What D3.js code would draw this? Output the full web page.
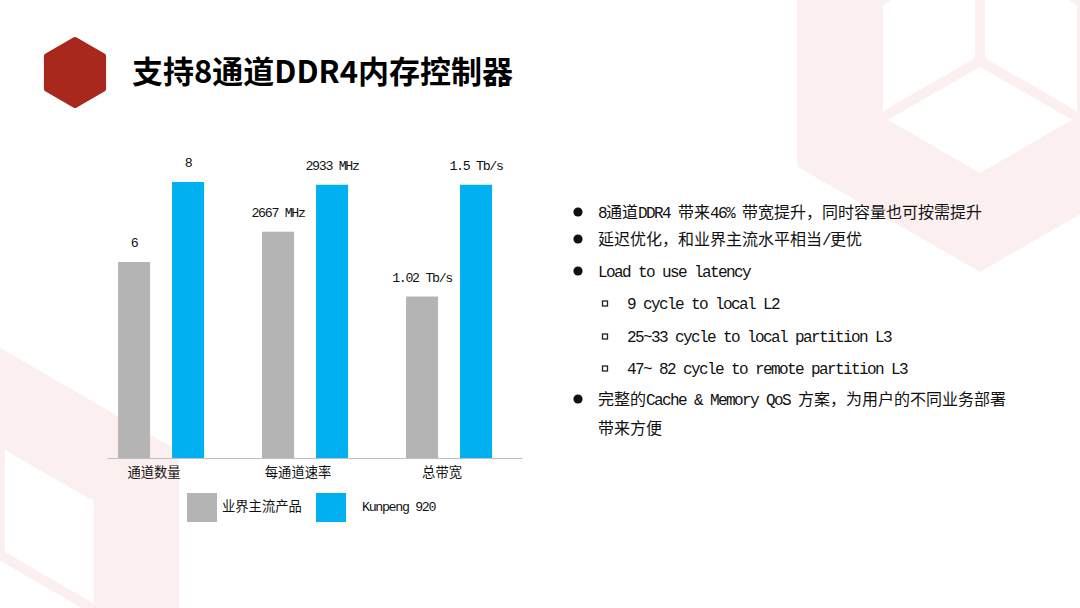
<!DOCTYPE html>
<html>
<head>
<meta charset="utf-8">
<script src="https://cdn.jsdelivr.net/npm/d3@7"></script>
<style>
  html, body { margin: 0; padding: 0; background: #fff; }
  svg { display: block; }
  text { white-space: pre; }
</style>
</head>
<body>
<script>
// ---------------- data ----------------
const categories = ["通道数量", "每通道速率", "总带宽"];
const seriesNames = ["业界主流产品", "Kunpeng 920"];
const seriesColors = ["#B4B4B4", "#00B0F0"];
// relative bar heights as drawn in the picture (tallest bar = 100)
const industryHeights = [71, 82, 58.5];
const kunpengHeights = [100, 99, 99];
const industryLabels = ["6", "2667 MHz", "1.02 Tb/s"];
const kunpengLabels = ["8", "2933 MHz", "1.5 Tb/s"];
const titleText = "支持8通道DDR4内存控制器";
const bulletTexts = [
  "8通道DDR4 带来46% 带宽提升，同时容量也可按需提升",
  "延迟优化，和业界主流水平相当/更优",
  "Load to use latency",
  "9 cycle to local L2",
  "25~33 cycle to local partition L3",
  "47~ 82 cycle to remote partition L3",
  "完整的Cache & Memory QoS 方案，为用户的不同业务部署",
  "带来方便"
];
const bulletLevels = [1, 1, 1, 2, 2, 2, 1, 0];

// ---------------- setup ----------------
const W = 1080, H = 608;
const svg = d3.select("body").append("svg").attr("width", W).attr("height", H);
svg.append("rect").attr("width", W).attr("height", H).attr("fill", "#fff");

const CJK = /[\u2E80-\u9FFF\u3000-\u303F\uFF00-\uFFEF]/;
function mixed(sel, str, size) {
  const parts = str.match(/[\u2E80-\u9FFF\u3000-\u303F\uFF00-\uFFEF]+|[^\u2E80-\u9FFF\u3000-\u303F\uFF00-\uFFEF]+/g) || [];
  parts.forEach(p => {
    const t = sel.append("tspan").text(p).attr("font-size", size);
    if (CJK.test(p)) t.attr("font-family", "'Noto Sans CJK SC', sans-serif");
    else t.attr("font-family", "'Liberation Mono', monospace").attr("letter-spacing", (-0.1 * size).toFixed(2));
  });
  return sel;
}

// ---------------- background cubes ----------------
function hexPts(cx, cy, R) {
  return d3.range(6).map(i => {
    const a = (-90 + 60 * i) * Math.PI / 180;
    return [cx + R * Math.cos(a), cy + R * Math.sin(a)];
  });
}
function cube(cx, cy, R, Rin, gap, color) {
  const g = svg.append("g");
  g.append("polygon").attr("points", hexPts(cx, cy, R).join(" ")).attr("fill", color);
  const inner = hexPts(cx, cy, Rin);
  g.append("polygon").attr("points", inner.join(" ")).attr("fill", "#fff");
  [inner[0], inner[2], inner[4]].forEach(p => {
    g.append("line").attr("x1", cx).attr("y1", cy).attr("x2", p[0]).attr("y2", p[1])
      .attr("stroke", color).attr("stroke-width", gap);
  });
}
cube(980, 61, 211, 112, 10, "#FCEFEF");
cube(0, 555, 207, 108, 10, "#FCEFEF");

// ---------------- title ----------------
const logo = hexPts(75, 72.5, 33);
svg.append("polygon").attr("points", logo.join(" "))
  .attr("fill", "#A9281E").attr("stroke", "#A9281E")
  .attr("stroke-width", 5).attr("stroke-linejoin", "round");
svg.append("text").attr("x", 132).attr("y", 83)
  .attr("font-family", "'Noto Sans CJK SC', sans-serif").attr("font-weight", 700)
  .attr("font-size", 31).attr("fill", "#000").text(titleText);

// ---------------- chart ----------------
const baseY = 458;
const x0 = d3.scaleBand().domain(categories).range([107, 522])
  .paddingInner(0.4028).paddingOuter(0.1425).align(0.27);
const x1 = d3.scaleBand().domain(seriesNames).range([0, x0.bandwidth()]).paddingInner(0.407);
const y = d3.scaleLinear().domain([0, 100]).range([baseY, 182]);

const rows = categories.map((c, i) => ({
  cat: c,
  vals: [
    { s: seriesNames[0], h: industryHeights[i], label: industryLabels[i], color: seriesColors[0] },
    { s: seriesNames[1], h: kunpengHeights[i], label: kunpengLabels[i], color: seriesColors[1] }
  ]
}));

const groups = svg.append("g").selectAll("g").data(rows).join("g")
  .attr("transform", d => `translate(${x0(d.cat)},0)`);
groups.selectAll("rect").data(d => d.vals).join("rect")
  .attr("x", d => x1(d.s)).attr("width", x1.bandwidth())
  .attr("y", d => y(d.h)).attr("height", d => y(0) - y(d.h))
  .attr("fill", d => d.color);
groups.selectAll("text").data(d => d.vals).join("text")
  .attr("x", d => x1(d.s) + x1.bandwidth() / 2)
  .attr("y", d => y(d.h) - 15)
  .attr("text-anchor", "middle").attr("fill", "#111")
  .each(function(d) { mixed(d3.select(this), d.label, 13.3); });

const axis = svg.append("g").attr("transform", `translate(0,${baseY})`)
  .call(d3.axisBottom(x0).tickSize(0).tickPadding(0));
axis.select(".domain").attr("stroke", "#BFBFBF").attr("stroke-width", 1.2);
axis.selectAll(".tick text").attr("dx", -7).attr("dy", 0).attr("y", 19)
  .attr("font-family", "'Noto Sans CJK SC', sans-serif")
  .attr("font-size", 13.3).attr("fill", "#111");

// legend
const legendX = [187, 316];
const legend = svg.append("g").selectAll("g").data(seriesNames).join("g")
  .attr("transform", (d, i) => `translate(${legendX[i]},493)`);
legend.append("rect").attr("width", 30).attr("height", 29)
  .attr("fill", (d, i) => seriesColors[i]);
legend.append("text").attr("x", (d, i) => i === 0 ? 35 : 46).attr("y", 18)
  .attr("fill", "#111")
  .each(function(d) { mixed(d3.select(this), d, 13.3); });

// ---------------- bullet text ----------------
const lineY = [212, 239, 271, 303, 336, 368, 399, 428];
const bl = svg.append("g").selectAll("g").data(bulletTexts).join("g")
  .attr("transform", (d, i) => `translate(0,${lineY[i]})`);
bl.filter((d, i) => bulletLevels[i] === 1).append("circle")
  .attr("cx", 578).attr("cy", 0).attr("r", 4.6).attr("fill", "#111");
bl.filter((d, i) => bulletLevels[i] === 2).append("rect")
  .attr("x", 602.5).attr("y", -2).attr("width", 5).attr("height", 5)
  .attr("fill", "none").attr("stroke", "#222").attr("stroke-width", 1.3);
bl.append("text")
  .attr("x", (d, i) => bulletLevels[i] === 2 ? 627 : 598)
  .attr("y", 6).attr("fill", "#111")
  .each(function(d) { mixed(d3.select(this), d, 16); });
</script>
</body>
</html>
